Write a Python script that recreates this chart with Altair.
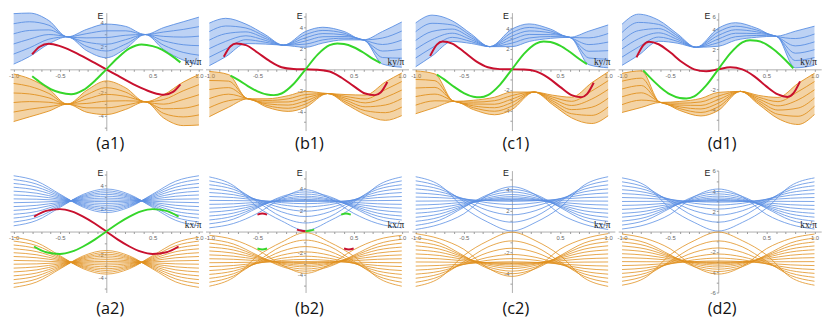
import altair as alt
import pandas as pd

# ---------------- grids / ticks ----------------
K1 = [-1.0, -0.83, -0.62, -0.42, -0.21, 0.0, 0.21, 0.42, 0.62, 0.83, 1.0]
KB_UP = [-1.0, -0.83, -0.62, -0.42, -0.23, 0.0, 0.18, 0.4, 0.6, 0.8, 1.0]
KB_LO = [-1.0, -0.8, -0.6, -0.4, -0.18, 0.0, 0.23, 0.42, 0.62, 0.83, 1.0]
K2 = [-1.0, -0.75, -0.5, -0.25, 0.0, 0.25, 0.5, 0.75, 1.0]
EDGE_K = [-0.85, -0.78, -0.72, -0.62, -0.5, -0.375, -0.25, -0.125, 0.0,
          0.125, 0.25, 0.375, 0.5, 0.62, 0.72, 0.78, 0.85]
GEDGE_K = [-0.78, -0.7, -0.6, -0.5, -0.4, -0.33, -0.25, -0.125, 0.0,
           0.125, 0.25, 0.33, 0.4, 0.5, 0.6, 0.7, 0.78]
XTICKS = [-1.0, -0.9, -0.8, -0.7, -0.6, -0.5, -0.4, -0.3, -0.2, -0.1,
          0.1, 0.2, 0.3, 0.4, 0.5, 0.6, 0.7, 0.8, 0.9, 1.0]
YTICKS5 = [-5, -4, -3, -2, -1, 1, 2, 3, 4, 5]
YTICKS6 = [-6, -5, -4, -3, -2, -1, 1, 2, 3, 4, 5, 6]

BLUE = "#5a8fe3"
ORANGE = "#e0901e"
RED = "#c8102e"
GREEN = "#35d62a"

# ---------------- (a1) ----------------
A1_UP = [
    [0.45, 1.10, 2.20, 2.80, 1.60, 1.00, 1.80, 3.00, 1.70, 0.80, 0.40],
    [1.32, 1.85, 2.60, 2.80, 1.97, 1.58, 2.18, 3.00, 2.08, 1.46, 1.22],
    [2.19, 2.60, 3.00, 2.80, 2.34, 2.16, 2.56, 3.00, 2.46, 2.12, 2.04],
    [3.06, 3.35, 3.40, 2.80, 2.71, 2.74, 2.94, 3.00, 2.84, 2.78, 2.86],
    [3.93, 4.10, 3.80, 2.80, 3.08, 3.32, 3.32, 3.00, 3.22, 3.44, 3.68],
    [4.80, 4.85, 4.20, 2.80, 3.45, 3.90, 3.70, 3.00, 3.60, 4.10, 4.50],
]
A1_LO = [
    [-0.40, -0.80, -1.70, -3.00, -1.80, -1.00, -1.60, -2.80, -2.20, -1.10, -0.45],
    [-1.22, -1.46, -2.08, -3.00, -2.18, -1.58, -1.97, -2.80, -2.60, -1.85, -1.32],
    [-2.04, -2.12, -2.46, -3.00, -2.56, -2.16, -2.34, -2.80, -3.00, -2.60, -2.19],
    [-2.86, -2.78, -2.84, -3.00, -2.94, -2.74, -2.71, -2.80, -3.40, -3.35, -3.06],
    [-3.68, -3.44, -3.22, -3.00, -3.32, -3.32, -3.08, -2.80, -3.80, -4.10, -3.93],
    [-4.50, -4.10, -3.60, -3.00, -3.70, -3.90, -3.45, -2.80, -4.20, -4.85, -4.80],
]
A1_RED_K = [-0.8, -0.72, -0.62, -0.5, -0.375, -0.25, -0.125, 0.0, 0.125, 0.25, 0.375, 0.5, 0.62, 0.72, 0.8]
A1_RED_E = [1.3, 1.95, 2.2, 2.0, 1.6, 1.1, 0.55, 0.0, -0.55, -1.1, -1.6, -2.0, -2.2, -1.95, -1.3]
A1_GRN_K = [-0.8, -0.7, -0.6, -0.5, -0.38, -0.25, -0.125, 0.0, 0.125, 0.25, 0.38, 0.5, 0.6, 0.7, 0.8]
A1_GRN_E = [-0.6, -1.2, -1.7, -2.0, -2.15, -1.8, -1.0, 0.0, 1.0, 1.8, 2.15, 2.0, 1.7, 1.2, 0.6]

# ---------------- (b1) ----------------
B1_UP = [
    [0.35, 1.20, 2.45, 2.40, 2.30, 2.10, 2.50, 2.80, 2.80, 0.50, 0.20],
    [1.16, 1.93, 2.82, 2.58, 2.30, 2.40, 2.80, 2.96, 2.80, 1.12, 1.06],
    [1.97, 2.66, 3.19, 2.76, 2.30, 2.70, 3.10, 3.12, 2.80, 1.74, 1.92],
    [2.78, 3.39, 3.56, 2.94, 2.30, 3.00, 3.40, 3.28, 2.80, 2.36, 2.78],
    [3.59, 4.12, 3.93, 3.12, 2.30, 3.30, 3.70, 3.44, 2.80, 2.98, 3.64],
    [4.40, 4.85, 4.30, 3.30, 2.30, 3.60, 4.00, 3.60, 2.80, 3.60, 4.50],
]
B1_LO = [
    [-0.20, -0.50, -2.80, -2.80, -2.50, -2.10, -2.30, -2.40, -2.45, -1.20, -0.35],
    [-1.06, -1.12, -2.80, -2.96, -2.80, -2.40, -2.30, -2.58, -2.82, -1.93, -1.16],
    [-1.92, -1.74, -2.80, -3.12, -3.10, -2.70, -2.30, -2.76, -3.19, -2.66, -1.97],
    [-2.78, -2.36, -2.80, -3.28, -3.40, -3.00, -2.30, -2.94, -3.56, -3.39, -2.78],
    [-3.64, -2.98, -2.80, -3.44, -3.70, -3.30, -2.30, -3.12, -3.93, -4.12, -3.59],
    [-4.50, -3.60, -2.80, -3.60, -4.00, -3.60, -2.30, -3.30, -4.30, -4.85, -4.40],
]
B1_RED_E = [1.2, 2.2, 2.45, 2.3, 1.6, 0.8, 0.2, 0.03, 0.0,
            -0.03, -0.2, -0.8, -1.6, -2.3, -2.45, -2.2, -1.2]
B1_GRN_E = [-0.6, -1.0, -1.6, -2.1, -2.4, -2.45, -2.3, -1.4, 0.0,
            1.4, 2.3, 2.45, 2.4, 2.1, 1.6, 1.0, 0.6]

# ---------------- (c1) ----------------
C1_UP = [
    [0.25, 1.30, 2.70, 2.50, 2.20, 2.20, 2.70, 3.00, 3.10, 0.45, 0.15],
    [1.10, 2.09, 3.10, 2.68, 2.20, 2.54, 3.04, 3.18, 3.10, 1.10, 0.98],
    [1.95, 2.88, 3.50, 2.86, 2.20, 2.88, 3.38, 3.36, 3.10, 1.75, 1.81],
    [2.80, 3.67, 3.90, 3.04, 2.20, 3.22, 3.72, 3.54, 3.10, 2.40, 2.64],
    [3.65, 4.46, 4.30, 3.22, 2.20, 3.56, 4.06, 3.72, 3.10, 3.05, 3.47],
    [4.50, 5.25, 4.70, 3.40, 2.20, 3.90, 4.40, 3.90, 3.10, 3.70, 4.30],
]
C1_LO = [
    [-0.15, -0.45, -3.10, -3.00, -2.70, -2.20, -2.20, -2.50, -2.70, -1.30, -0.25],
    [-0.98, -1.10, -3.10, -3.18, -3.04, -2.54, -2.20, -2.68, -3.10, -2.09, -1.10],
    [-1.81, -1.75, -3.10, -3.36, -3.38, -2.88, -2.20, -2.86, -3.50, -2.88, -1.95],
    [-2.64, -2.40, -3.10, -3.54, -3.72, -3.22, -2.20, -3.04, -3.90, -3.67, -2.80],
    [-3.47, -3.05, -3.10, -3.72, -4.06, -3.56, -2.20, -3.22, -4.30, -4.46, -3.65],
    [-4.30, -3.70, -3.10, -3.90, -4.40, -3.90, -2.20, -3.40, -4.70, -5.25, -4.50],
]
C1_RED_E = [1.3, 2.4, 2.7, 2.5, 1.7, 0.8, 0.2, 0.02, 0.0,
            -0.02, -0.2, -0.8, -1.7, -2.5, -2.7, -2.4, -1.3]
C1_GRN_E = [-0.5, -1.0, -1.7, -2.3, -2.65, -2.7, -2.5, -1.5, 0.0,
            1.5, 2.5, 2.7, 2.65, 2.3, 1.7, 1.0, 0.5]

# ---------------- (d1) ----------------
D1_UP = [
    [0.40, 1.40, 2.80, 2.60, 2.20, 2.30, 2.90, 3.20, 3.30, 0.15, 0.40],
    [1.22, 2.22, 3.22, 2.78, 2.20, 2.66, 3.25, 3.38, 3.30, 0.88, 1.18],
    [2.04, 3.04, 3.64, 2.96, 2.20, 3.02, 3.60, 3.56, 3.30, 1.61, 1.96],
    [2.86, 3.86, 4.06, 3.14, 2.20, 3.38, 3.95, 3.74, 3.30, 2.34, 2.74],
    [3.68, 4.68, 4.48, 3.32, 2.20, 3.74, 4.30, 3.92, 3.30, 3.07, 3.52],
    [4.50, 5.50, 4.90, 3.50, 2.20, 4.10, 4.65, 4.10, 3.30, 3.80, 4.30],
]
D1_LO = [
    [-0.40, -0.15, -3.30, -3.20, -2.90, -2.30, -2.20, -2.60, -2.80, -1.40, -0.40],
    [-1.18, -0.88, -3.30, -3.38, -3.25, -2.66, -2.20, -2.78, -3.22, -2.22, -1.22],
    [-1.96, -1.61, -3.30, -3.56, -3.60, -3.02, -2.20, -2.96, -3.64, -3.04, -2.04],
    [-2.74, -2.34, -3.30, -3.74, -3.95, -3.38, -2.20, -3.14, -4.06, -3.86, -2.86],
    [-3.52, -3.07, -3.30, -3.92, -4.30, -3.74, -2.20, -3.32, -4.48, -4.68, -3.68],
    [-4.30, -3.80, -3.30, -4.10, -4.65, -4.10, -2.20, -3.50, -4.90, -5.50, -4.50],
]
D1_RED_E = [1.2, 2.4, 2.75, 2.5, 1.7, 0.7, 0.0, -0.2, 0.0,
            0.2, 0.0, -0.7, -1.7, -2.5, -2.75, -2.4, -1.2]
D1_GRN_E = [-0.1, -0.9, -1.8, -2.5, -2.85, -2.9, -2.7, -1.6, 0.0,
            1.6, 2.7, 2.9, 2.85, 2.5, 1.8, 0.9, 0.1]

# ---------------- (a2) ----------------
A2_UP = [
    [0.50, 0.97, 2.10, 3.23, 3.70, 3.23, 2.10, 0.97, 0.50],
    [0.83, 1.23, 2.19, 3.14, 3.54, 3.14, 2.19, 1.23, 0.83],
    [1.17, 1.49, 2.28, 3.06, 3.38, 3.06, 2.28, 1.49, 1.17],
    [1.50, 1.75, 2.37, 2.98, 3.23, 2.98, 2.37, 1.75, 1.50],
    [1.84, 2.02, 2.46, 2.89, 3.07, 2.89, 2.46, 2.02, 1.84],
    [2.17, 2.28, 2.54, 2.80, 2.91, 2.80, 2.54, 2.28, 2.17],
    [2.51, 2.55, 2.63, 2.72, 2.75, 2.72, 2.63, 2.55, 2.51],
    [2.84, 2.81, 2.72, 2.64, 2.60, 2.64, 2.72, 2.81, 2.84],
    [3.18, 3.07, 2.81, 2.55, 2.44, 2.55, 2.81, 3.07, 3.18],
    [3.51, 3.33, 2.90, 2.46, 2.28, 2.46, 2.90, 3.33, 3.51],
    [3.85, 3.60, 2.99, 2.37, 2.12, 2.37, 2.99, 3.60, 3.85],
    [4.18, 3.86, 3.08, 2.29, 1.97, 2.29, 3.08, 3.86, 4.18],
    [4.52, 4.12, 3.17, 2.21, 1.81, 2.21, 3.17, 4.12, 4.52],
    [4.85, 4.38, 3.25, 2.12, 1.65, 2.12, 3.25, 4.38, 4.85],
]
A2_LO = [
    [-0.50, -0.97, -2.10, -3.23, -3.70, -3.23, -2.10, -0.97, -0.50],
    [-0.83, -1.23, -2.19, -3.14, -3.54, -3.14, -2.19, -1.23, -0.83],
    [-1.17, -1.49, -2.28, -3.06, -3.38, -3.06, -2.28, -1.49, -1.17],
    [-1.50, -1.75, -2.37, -2.98, -3.23, -2.98, -2.37, -1.75, -1.50],
    [-1.84, -2.02, -2.46, -2.89, -3.07, -2.89, -2.46, -2.02, -1.84],
    [-2.17, -2.28, -2.54, -2.80, -2.91, -2.80, -2.54, -2.28, -2.17],
    [-2.51, -2.55, -2.63, -2.72, -2.75, -2.72, -2.63, -2.55, -2.51],
    [-2.84, -2.81, -2.72, -2.64, -2.60, -2.64, -2.72, -2.81, -2.84],
    [-3.18, -3.07, -2.81, -2.55, -2.44, -2.55, -2.81, -3.07, -3.18],
    [-3.51, -3.33, -2.90, -2.46, -2.28, -2.46, -2.90, -3.33, -3.51],
    [-3.85, -3.60, -2.99, -2.37, -2.12, -2.37, -2.99, -3.60, -3.85],
    [-4.18, -3.86, -3.08, -2.29, -1.97, -2.29, -3.08, -3.86, -4.18],
    [-4.52, -4.12, -3.17, -2.21, -1.81, -2.21, -3.17, -4.12, -4.52],
    [-4.85, -4.38, -3.25, -2.12, -1.65, -2.12, -3.25, -4.38, -4.85],
]
A2_RED_K = [-0.78, -0.65, -0.5, -0.375, -0.25, -0.125, 0.0, 0.125, 0.25, 0.375, 0.5, 0.65, 0.78]
A2_RED_E = [1.3, 1.8, 1.95, 1.75, 1.3, 0.7, 0.0, -0.7, -1.3, -1.75, -1.95, -1.8, -1.3]
A2_GRN_E = [-1.3, -1.8, -1.95, -1.75, -1.3, -0.7, 0.0, 0.7, 1.3, 1.75, 1.95, 1.8, 1.3]

# ---------------- (b2) ----------------
B2_UP = [
    [0.35, 0.75, 1.70, 3.10, 3.90, 3.10, 1.70, 0.75, 0.35],
    [0.72, 1.16, 2.21, 3.26, 3.70, 3.26, 2.21, 1.16, 0.72],
    [1.08, 1.44, 2.29, 3.15, 3.50, 3.15, 2.29, 1.44, 1.08],
    [1.45, 1.72, 2.38, 3.03, 3.30, 3.03, 2.38, 1.72, 1.45],
    [1.81, 2.01, 2.48, 2.95, 3.15, 2.95, 2.48, 2.01, 1.81],
    [2.18, 2.30, 2.59, 2.88, 3.00, 2.88, 2.59, 2.30, 2.18],
    [2.54, 2.59, 2.72, 2.85, 2.90, 2.85, 2.72, 2.59, 2.54],
    [2.91, 2.89, 2.86, 2.82, 2.80, 2.82, 2.86, 2.89, 2.91],
    [3.27, 3.17, 2.94, 2.70, 2.60, 2.70, 2.94, 3.17, 3.27],
    [3.64, 3.44, 2.97, 2.50, 2.30, 2.50, 2.97, 3.44, 3.64],
    [4.00, 3.69, 2.95, 2.21, 1.90, 2.21, 2.95, 3.69, 4.00],
    [4.37, 3.94, 2.89, 1.84, 1.40, 1.84, 2.89, 3.94, 4.37],
    [4.73, 4.15, 2.77, 1.38, 0.80, 1.38, 2.77, 4.15, 4.73],
    [5.10, 4.30, 2.30, 1.00, 0.10, 1.00, 2.30, 4.30, 5.10],
]
B2_LO = [
    [-0.35, -0.75, -1.70, -3.10, -3.90, -3.10, -1.70, -0.75, -0.35],
    [-0.72, -1.16, -2.21, -3.26, -3.70, -3.26, -2.21, -1.16, -0.72],
    [-1.08, -1.44, -2.29, -3.15, -3.50, -3.15, -2.29, -1.44, -1.08],
    [-1.45, -1.72, -2.38, -3.03, -3.30, -3.03, -2.38, -1.72, -1.45],
    [-1.81, -2.01, -2.48, -2.95, -3.15, -2.95, -2.48, -2.01, -1.81],
    [-2.18, -2.30, -2.59, -2.88, -3.00, -2.88, -2.59, -2.30, -2.18],
    [-2.54, -2.59, -2.72, -2.85, -2.90, -2.85, -2.72, -2.59, -2.54],
    [-2.91, -2.89, -2.86, -2.82, -2.80, -2.82, -2.86, -2.89, -2.91],
    [-3.27, -3.17, -2.94, -2.70, -2.60, -2.70, -2.94, -3.17, -3.27],
    [-3.64, -3.44, -2.97, -2.50, -2.30, -2.50, -2.97, -3.44, -3.64],
    [-4.00, -3.69, -2.95, -2.21, -1.90, -2.21, -2.95, -3.69, -4.00],
    [-4.37, -3.94, -2.89, -1.84, -1.40, -1.84, -2.89, -3.94, -4.37],
    [-4.73, -4.15, -2.77, -1.38, -0.80, -1.38, -2.77, -4.15, -4.73],
    [-5.10, -4.30, -2.30, -1.00, -0.10, -1.00, -2.30, -4.30, -5.10],
]
B2_SEGS = [
    (RED, [-0.5, -0.45, -0.4], [1.58, 1.68, 1.58]),
    (GREEN, [0.37, 0.42, 0.47], [1.58, 1.68, 1.58]),
    (GREEN, [-0.5, -0.45, -0.4], [-1.58, -1.68, -1.58]),
    (RED, [0.4, 0.45, 0.5], [-1.58, -1.68, -1.58]),
    (RED, [-0.09, -0.04, 0.0], [0.18, 0.08, 0.04]),
    (GREEN, [0.0, 0.04, 0.09], [0.04, 0.08, 0.18]),
]

# ---------------- (c2) ----------------
C2_UP = [
    [0.20, 0.70, 1.70, 3.50, 4.30, 3.50, 1.70, 0.70, 0.20],
    [0.59, 1.10, 2.32, 3.54, 4.05, 3.54, 2.32, 1.10, 0.59],
    [0.98, 1.39, 2.39, 3.39, 3.80, 3.39, 2.39, 1.39, 0.98],
    [1.37, 1.69, 2.46, 3.23, 3.55, 3.23, 2.46, 1.69, 1.37],
    [1.76, 1.99, 2.56, 3.12, 3.35, 3.12, 2.56, 1.99, 1.76],
    [2.15, 2.30, 2.68, 3.05, 3.20, 3.05, 2.68, 2.30, 2.15],
    [2.54, 2.62, 2.81, 3.00, 3.08, 3.00, 2.81, 2.62, 2.54],
    [2.92, 2.93, 2.96, 2.99, 3.00, 2.99, 2.96, 2.93, 2.92],
    [3.31, 3.25, 3.11, 2.96, 2.90, 2.96, 3.11, 3.25, 3.31],
    [3.70, 3.54, 3.15, 2.76, 2.60, 2.76, 3.15, 3.54, 3.70],
    [4.09, 3.81, 3.15, 2.48, 2.20, 2.48, 3.15, 3.81, 4.09],
    [4.48, 4.06, 3.04, 2.02, 1.60, 2.02, 3.04, 4.06, 4.48],
    [4.87, 4.29, 2.89, 1.48, 0.90, 1.48, 2.89, 4.29, 4.87],
    [5.26, 4.45, 2.30, 0.90, 0.06, 0.90, 2.30, 4.45, 5.26],
]
C2_LO = [
    [-0.20, -0.70, -1.70, -3.50, -4.30, -3.50, -1.70, -0.70, -0.20],
    [-0.59, -1.10, -2.32, -3.54, -4.05, -3.54, -2.32, -1.10, -0.59],
    [-0.98, -1.39, -2.39, -3.39, -3.80, -3.39, -2.39, -1.39, -0.98],
    [-1.37, -1.69, -2.46, -3.23, -3.55, -3.23, -2.46, -1.69, -1.37],
    [-1.76, -1.99, -2.56, -3.12, -3.35, -3.12, -2.56, -1.99, -1.76],
    [-2.15, -2.30, -2.68, -3.05, -3.20, -3.05, -2.68, -2.30, -2.15],
    [-2.54, -2.62, -2.81, -3.00, -3.08, -3.00, -2.81, -2.62, -2.54],
    [-2.92, -2.93, -2.96, -2.99, -3.00, -2.99, -2.96, -2.93, -2.92],
    [-3.31, -3.25, -3.11, -2.96, -2.90, -2.96, -3.11, -3.25, -3.31],
    [-3.70, -3.54, -3.15, -2.76, -2.60, -2.76, -3.15, -3.54, -3.70],
    [-4.09, -3.81, -3.15, -2.48, -2.20, -2.48, -3.15, -3.81, -4.09],
    [-4.48, -4.06, -3.04, -2.02, -1.60, -2.02, -3.04, -4.06, -4.48],
    [-4.87, -4.29, -2.89, -1.48, -0.90, -1.48, -2.89, -4.29, -4.87],
    [-5.26, -4.45, -2.30, -0.90, -0.06, -0.90, -2.30, -4.45, -5.26],
]

# ---------------- (d2) ----------------
D2_UP = [
    [0.25, 0.70, 1.70, 3.45, 4.20, 3.45, 1.70, 0.70, 0.25],
    [0.64, 1.13, 2.30, 3.47, 3.95, 3.47, 2.30, 1.13, 0.64],
    [1.03, 1.42, 2.38, 3.33, 3.72, 3.33, 2.38, 1.42, 1.03],
    [1.42, 1.73, 2.46, 3.20, 3.50, 3.20, 2.46, 1.73, 1.42],
    [1.80, 2.02, 2.56, 3.10, 3.32, 3.10, 2.56, 2.02, 1.80],
    [2.19, 2.34, 2.69, 3.04, 3.18, 3.04, 2.69, 2.34, 2.19],
    [2.58, 2.65, 2.83, 3.00, 3.07, 3.00, 2.83, 2.65, 2.58],
    [2.97, 2.98, 2.99, 3.00, 3.00, 3.00, 2.99, 2.98, 2.97],
    [3.36, 3.29, 3.13, 2.97, 2.90, 2.97, 3.13, 3.29, 3.36],
    [3.75, 3.59, 3.19, 2.79, 2.62, 2.79, 3.19, 3.59, 3.75],
    [4.13, 3.85, 3.18, 2.50, 2.22, 2.50, 3.18, 3.85, 4.13],
    [4.52, 4.10, 3.07, 2.05, 1.62, 2.05, 3.07, 4.10, 4.52],
    [4.91, 4.33, 2.92, 1.51, 0.92, 1.51, 2.92, 4.33, 4.91],
    [5.30, 4.50, 2.30, 0.90, 0.05, 0.90, 2.30, 4.50, 5.30],
]
D2_LO = [
    [-0.25, -0.70, -1.70, -3.45, -4.20, -3.45, -1.70, -0.70, -0.25],
    [-0.64, -1.13, -2.30, -3.47, -3.95, -3.47, -2.30, -1.13, -0.64],
    [-1.03, -1.42, -2.38, -3.33, -3.72, -3.33, -2.38, -1.42, -1.03],
    [-1.42, -1.73, -2.46, -3.20, -3.50, -3.20, -2.46, -1.73, -1.42],
    [-1.80, -2.02, -2.56, -3.10, -3.32, -3.10, -2.56, -2.02, -1.80],
    [-2.19, -2.34, -2.69, -3.04, -3.18, -3.04, -2.69, -2.34, -2.19],
    [-2.58, -2.65, -2.83, -3.00, -3.07, -3.00, -2.83, -2.65, -2.58],
    [-2.97, -2.98, -2.99, -3.00, -3.00, -3.00, -2.99, -2.98, -2.97],
    [-3.36, -3.29, -3.13, -2.97, -2.90, -2.97, -3.13, -3.29, -3.36],
    [-3.75, -3.59, -3.19, -2.79, -2.62, -2.79, -3.19, -3.59, -3.75],
    [-4.13, -3.85, -3.18, -2.50, -2.22, -2.50, -3.18, -3.85, -4.13],
    [-4.52, -4.10, -3.07, -2.05, -1.62, -2.05, -3.07, -4.10, -4.52],
    [-4.91, -4.33, -2.92, -1.51, -0.92, -1.51, -2.92, -4.33, -4.91],
    [-5.30, -4.50, -2.30, -0.90, -0.05, -0.90, -2.30, -4.50, -5.30],
]

# ---------------- layout ----------------
XDOM_FIRST = [-1.04, 1.04]
W_FIRST = 196
XDOM_REST = [-1.04, 1.07]
W_REST = 206.5
H_TOP = 120
H_BOT = 124

TOP = [
    dict(label="(a1)", scale=11.8, gu=K1, gl=K1, up=A1_UP, lo=A1_LO, ribbon=True,
         segs=[(RED, A1_RED_K, A1_RED_E), (GREEN, A1_GRN_K, A1_GRN_E)], yt=YTICKS5, six=False, eshift=False),
    dict(label="(b1)", scale=10.7, gu=KB_UP, gl=KB_LO, up=B1_UP, lo=B1_LO, ribbon=True,
         segs=[(RED, EDGE_K, B1_RED_E), (GREEN, GEDGE_K, B1_GRN_E)], yt=YTICKS5, six=False, eshift=False),
    dict(label="(c1)", scale=10.5, gu=KB_UP, gl=KB_LO, up=C1_UP, lo=C1_LO, ribbon=True,
         segs=[(RED, EDGE_K, C1_RED_E), (GREEN, GEDGE_K, C1_GRN_E)], yt=YTICKS5, six=False, eshift=False),
    dict(label="(d1)", scale=10.2, gu=KB_UP, gl=KB_LO, up=D1_UP, lo=D1_LO, ribbon=True,
         segs=[(RED, EDGE_K, D1_RED_E), (GREEN, GEDGE_K, D1_GRN_E)], yt=YTICKS5, six=True, eshift=True),
]
BOT = [
    dict(label="(a2)", scale=11.7, gu=K2, gl=K2, up=A2_UP, lo=A2_LO, ribbon=False,
         segs=[(RED, A2_RED_K, A2_RED_E), (GREEN, A2_RED_K, A2_GRN_E)], yt=YTICKS5, six=False, eshift=False),
    dict(label="(b2)", scale=10.9, gu=K2, gl=K2, up=B2_UP, lo=B2_LO, ribbon=False,
         segs=B2_SEGS, yt=YTICKS5, six=False, eshift=False),
    dict(label="(c2)", scale=10.6, gu=K2, gl=K2, up=C2_UP, lo=C2_LO, ribbon=False,
         segs=[], yt=YTICKS5, six=False, eshift=False),
    dict(label="(d2)", scale=10.3, gu=K2, gl=K2, up=D2_UP, lo=D2_LO, ribbon=False,
         segs=[], yt=YTICKS6, six=False, eshift=True),
]

X_LABEL_EXPR = ("(abs(datum.value) > 0.99 || abs(abs(datum.value) - 0.5) < 0.01) ? "
                "replace(format(datum.value, '.1f'), '\u2212', '-') : ''")
Y_LABEL_EXPR = "(datum.value % 2 == 0) ? replace(format(datum.value, 'd'), '\u2212', '-') : ''"


def lines_df(lines, grid):
    rows = []
    for i, ln in enumerate(lines):
        for k, e in zip(grid, ln):
            rows.append({"k": k, "E": e, "n": i})
    return pd.DataFrame(rows)


def make_panel(p, W, xdom, H, above, below, xname, label_y, e_y):
    s = p["scale"]
    ydom = [-below / s, above / s]
    pxu = W / (xdom[1] - xdom[0])          # pixels per unit of k
    x0 = -xdom[0] * pxu                    # pixel position of k = 0
    x1 = (1.0 - xdom[0]) * pxu             # pixel position of k = 1
    xs = alt.Scale(domain=xdom, nice=False, zero=False)
    ys = alt.Scale(domain=ydom, nice=False, zero=False)
    common = dict(title=None, grid=False, labelFlush=False, labelOverlap=False,
                  labelFontSize=6, labelColor="#666666", labelPadding=1, labelFont="Liberation Sans",
                  tickSize=2, tickColor="#9a9a9a", domainColor="#9a9a9a", domainWidth=0.8)
    xaxis = alt.Axis(orient="bottom", offset=-below, values=XTICKS, labelExpr=X_LABEL_EXPR, **common)
    yaxis = alt.Axis(orient="left", offset=-x0, values=p["yt"], labelExpr=Y_LABEL_EXPR, **common)
    X = alt.X("k:Q", scale=xs, axis=xaxis)
    Y = alt.Y("E:Q", scale=ys, axis=yaxis)
    layers = []
    for lines, grid, col in ((p["up"], p["gu"], BLUE), (p["lo"], p["gl"], ORANGE)):
        if p["ribbon"]:
            adf = pd.DataFrame({"k": grid, "E": lines[0], "hi": lines[-1]})
            layers.append(alt.Chart(adf).mark_area(color=col, opacity=0.4, interpolate="monotone").encode(
                x=X, y=Y, y2="hi:Q"))
        layers.append(alt.Chart(lines_df(lines, grid)).mark_line(
            color=col, strokeWidth=0.9 if p["ribbon"] else 0.8, interpolate="monotone").encode(
            x=X, y=Y, detail="n:N"))
    for col, ks, es in p["segs"]:
        sdf = pd.DataFrame({"k": ks, "E": es})
        layers.append(alt.Chart(sdf).mark_line(color=col, strokeWidth=2, interpolate="monotone").encode(
            x=X, y=Y))
    # texts
    ex = x0 - 11 if p["eshift"] else x0 - 6
    layers.append(alt.Chart(pd.DataFrame({"t": ["E"]})).mark_text(
        fontSize=9, font="Liberation Sans", color="#222222", baseline="middle", align="center").encode(
        x=alt.value(ex), y=alt.value(e_y), text="t:N"))
    if p["six"]:
        layers.append(alt.Chart(pd.DataFrame({"t": ["6"]})).mark_text(
            fontSize=6, font="Liberation Sans", color="#666666", baseline="middle", align="right").encode(
            x=alt.value(x0 - 2.5), y=alt.value(e_y), text="t:N"))
    layers.append(alt.Chart(pd.DataFrame({"t": [xname]})).mark_text(
        fontSize=9.5, font="Liberation Serif", color="#222222", baseline="middle", align="center").encode(
        x=alt.value(x1 - 6), y=alt.value(above - 7), text="t:N"))
    layers.append(alt.Chart(pd.DataFrame({"t": [p["label"]]})).mark_text(
        fontSize=16.5, font="Open Sans", color="#111111", baseline="middle", align="center").encode(
        x=alt.value(x0 + 4), y=alt.value(label_y), text="t:N"))
    return alt.layer(*layers).properties(width=W, height=H)


panels = []
for i, p in enumerate(TOP):
    W, xd = (W_FIRST, XDOM_FIRST) if i == 0 else (W_REST, XDOM_REST)
    panels.append(make_panel(p, W, xd, H_TOP, 57.7, 62.3, "ky/\u03c0", 133.7, 4.0))
for i, p in enumerate(BOT):
    W, xd = (W_FIRST, XDOM_FIRST) if i == 0 else (W_REST, XDOM_REST)
    panels.append(make_panel(p, W, xd, H_BOT, 62.0, 62.0, "kx/\u03c0", 141.3, 3.0))

chart = alt.concat(*panels, columns=4, spacing={"row": 40.7, "column": 2.9},
                   bounds="flush", align="each").properties(
    padding={"left": 0, "top": 0, "right": 0, "bottom": 0}
).configure_view(strokeWidth=0)

chart.save("out.html", embed_options={"renderer": "svg", "actions": False})
